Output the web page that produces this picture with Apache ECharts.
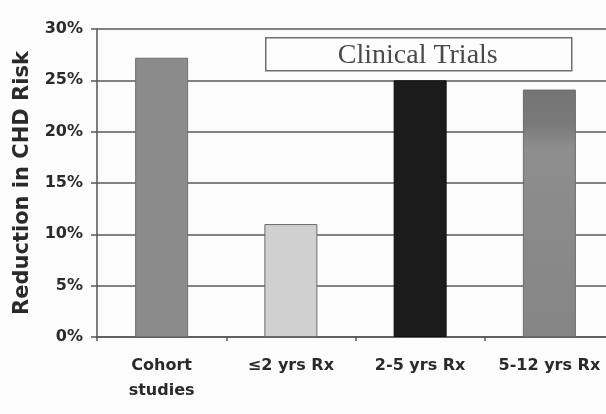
<!DOCTYPE html>
<html>
<head>
<meta charset="utf-8">
<script src="https://cdn.jsdelivr.net/npm/echarts@6/dist/echarts.min.js"></script>
<style>
  html, body { margin: 0; padding: 0; background: #fcfcfc; }
  #chart { width: 606px; height: 414px; }
</style>
</head>
<body>
<div id="chart"></div>
<script>
// Reduction in coronary heart disease risk: cohort studies vs. trial duration
const categories = ['Cohort\nstudies', '≤2 yrs Rx', '2-5 yrs Rx', '5-12 yrs Rx'];
const reduction = [27.2, 11.0, 25.0, 24.1];
const yTicks = { min: 0, max: 30, step: 5 };
const axisTitle = 'Reduction in CHD Risk';
const boxLabel = 'Clinical Trials';

const barStyles = [
  { color: '#8b8b8b', borderColor: '#707070' },
  { color: '#d0d0d0', borderColor: '#6a6a6a' },
  { color: '#1c1c1c', borderColor: '#111111' },
  {
    color: {
      type: 'linear', x: 0, y: 0, x2: 0, y2: 1,
      colorStops: [
        { offset: 0, color: '#747474' },
        { offset: 0.14, color: '#7a7a7a' },
        { offset: 0.24, color: '#8e8e8e' },
        { offset: 1, color: '#858585' }
      ]
    },
    borderColor: '#6c6c6c'
  }
];

const chart = echarts.init(document.getElementById('chart'), null, { renderer: 'canvas' });

const labelFont = { fontFamily: 'DejaVu Sans', fontWeight: 'bold', fontSize: 16, color: '#2a2a2a' };

chart.setOption({
  backgroundColor: '#fcfcfc',
  animation: false,
  grid: { left: 97, top: 29, bottom: 77, width: 517, outerBoundsMode: 'none', containLabel: false },
  xAxis: {
    type: 'category',
    data: categories,
    axisLine: { lineStyle: { color: '#555', width: 1.5 } },
    axisTick: { show: true, length: 4, alignWithLabel: false, lineStyle: { color: '#555', width: 1.5 } },
    axisLabel: Object.assign({ margin: 16, lineHeight: 25, interval: 0 }, labelFont)
  },
  yAxis: {
    type: 'value',
    min: yTicks.min,
    max: yTicks.max,
    interval: yTicks.step,
    name: axisTitle,
    nameLocation: 'middle',
    nameGap: 64,
    nameTextStyle: { fontFamily: 'DejaVu Sans', fontWeight: 'bold', fontSize: 21, color: '#2a2a2a' },
    axisLine: { show: true, lineStyle: { color: '#555', width: 1.5 } },
    axisTick: { show: true, length: 6, lineStyle: { color: '#555', width: 1.5 } },
    axisLabel: Object.assign({ margin: 14, formatter: '{value}%' }, labelFont),
    splitLine: { lineStyle: { color: '#5a5a5a', width: 1.5 } }
  },
  series: [{
    type: 'bar',
    barWidth: 53,
    data: reduction.map((v, i) => ({
      value: v,
      itemStyle: Object.assign({ borderWidth: 1 }, barStyles[i])
    }))
  }],
  graphic: [{
    type: 'group',
    left: 265,
    top: 37,
    children: [
      {
        type: 'rect',
        shape: { x: 0, y: 0, width: 306, height: 33 },
        style: { fill: '#fdfdfd', stroke: '#6e6e6e', lineWidth: 1.5 }
      },
      {
        type: 'text',
        x: 152,
        y: 18,
        style: {
          text: boxLabel,
          fontFamily: 'Liberation Serif',
          fontSize: 28,
          fill: '#4a4a4a',
          align: 'center',
          verticalAlign: 'middle'
        }
      }
    ]
  }]
});
</script>
</body>
</html>
